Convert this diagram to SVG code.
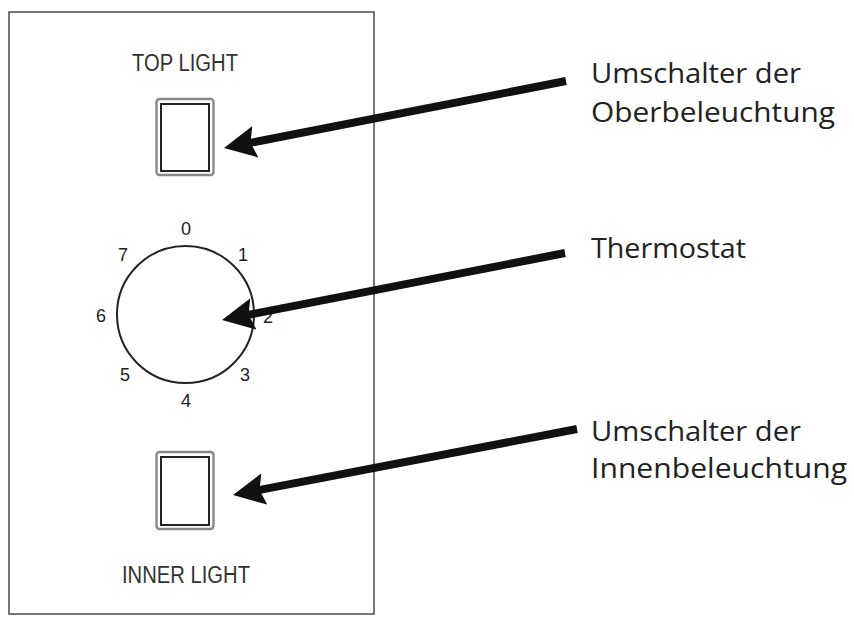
<svg xmlns="http://www.w3.org/2000/svg" width="854" height="620" viewBox="0 0 854 620">
  <style>
    .panel { fill: #fff; stroke: #555; stroke-width: 1.6; }
    .plabel { font-family: "Liberation Sans", Arial, sans-serif; font-size: 23px; fill: #333; text-anchor: middle; }
    .num { font-family: "Liberation Sans", Arial, sans-serif; font-size: 18px; fill: #222; text-anchor: middle; }
    .sw-out { fill: none; stroke: #888; stroke-width: 2.4; }
    .sw-in { fill: #fff; stroke: #222; stroke-width: 2; }
    .dial { fill: none; stroke: #222; stroke-width: 2; }
    .callout { font-family: "Open Sans", "Noto Sans", sans-serif; font-size: 28px; fill: #222; }
    .arrow { stroke: #111; stroke-width: 8; fill: none; marker-end: url(#head); }
  </style>
  <defs>
    <marker id="head" markerUnits="userSpaceOnUse" viewBox="0 0 32 32" markerWidth="32" markerHeight="32" refX="16" refY="16" orient="auto">
      <path d="M0,0 L32,16 L0,32 L5,16 z" fill="#111"/>
    </marker>
  </defs>
  <rect width="854" height="620" fill="#fff"/>

  <g id="panel">
    <rect class="panel" x="9" y="12" width="365" height="602"/>
  </g>

  <g id="top-light">
    <text class="plabel" x="185" y="71" textLength="106" lengthAdjust="spacingAndGlyphs">TOP LIGHT</text>
    <rect class="sw-out" x="156.5" y="99" width="57" height="76" rx="3"/>
    <rect class="sw-in" x="161" y="104" width="48" height="67"/>
  </g>

  <g id="thermostat">
    <circle class="dial" cx="185.5" cy="314.5" r="68.5"/>
    <text class="num" x="186" y="235">0</text>
    <text class="num" x="243" y="261">1</text>
    <text class="num" x="268" y="323">2</text>
    <text class="num" x="245" y="381">3</text>
    <text class="num" x="186" y="407">4</text>
    <text class="num" x="125" y="381">5</text>
    <text class="num" x="101" y="322">6</text>
    <text class="num" x="123" y="261">7</text>
  </g>

  <g id="inner-light">
    <rect class="sw-out" x="156.5" y="452" width="57" height="77" rx="3"/>
    <rect class="sw-in" x="161" y="457" width="48" height="68"/>
    <text class="plabel" x="186" y="583" textLength="128" lengthAdjust="spacingAndGlyphs">INNER LIGHT</text>
  </g>

  <g id="label-top">
    <text class="callout" x="591" y="83" textLength="210" lengthAdjust="spacingAndGlyphs">Umschalter der</text>
    <text class="callout" x="591" y="122" textLength="244" lengthAdjust="spacingAndGlyphs">Oberbeleuchtung</text>
  </g>
  <g id="label-thermostat">
    <text class="callout" x="591" y="258" textLength="155" lengthAdjust="spacingAndGlyphs">Thermostat</text>
  </g>
  <g id="label-inner">
    <text class="callout" x="591" y="441" textLength="210" lengthAdjust="spacingAndGlyphs">Umschalter der</text>
    <text class="callout" x="591" y="478" textLength="256" lengthAdjust="spacingAndGlyphs">Innenbeleuchtung</text>
  </g>

  <g id="connectors">
    <line class="arrow" x1="566" y1="81" x2="239.7" y2="144.9"/>
    <line class="arrow" x1="565" y1="253" x2="237.7" y2="316.9"/>
    <line class="arrow" x1="577" y1="429" x2="248.7" y2="492"/>
  </g>
</svg>
